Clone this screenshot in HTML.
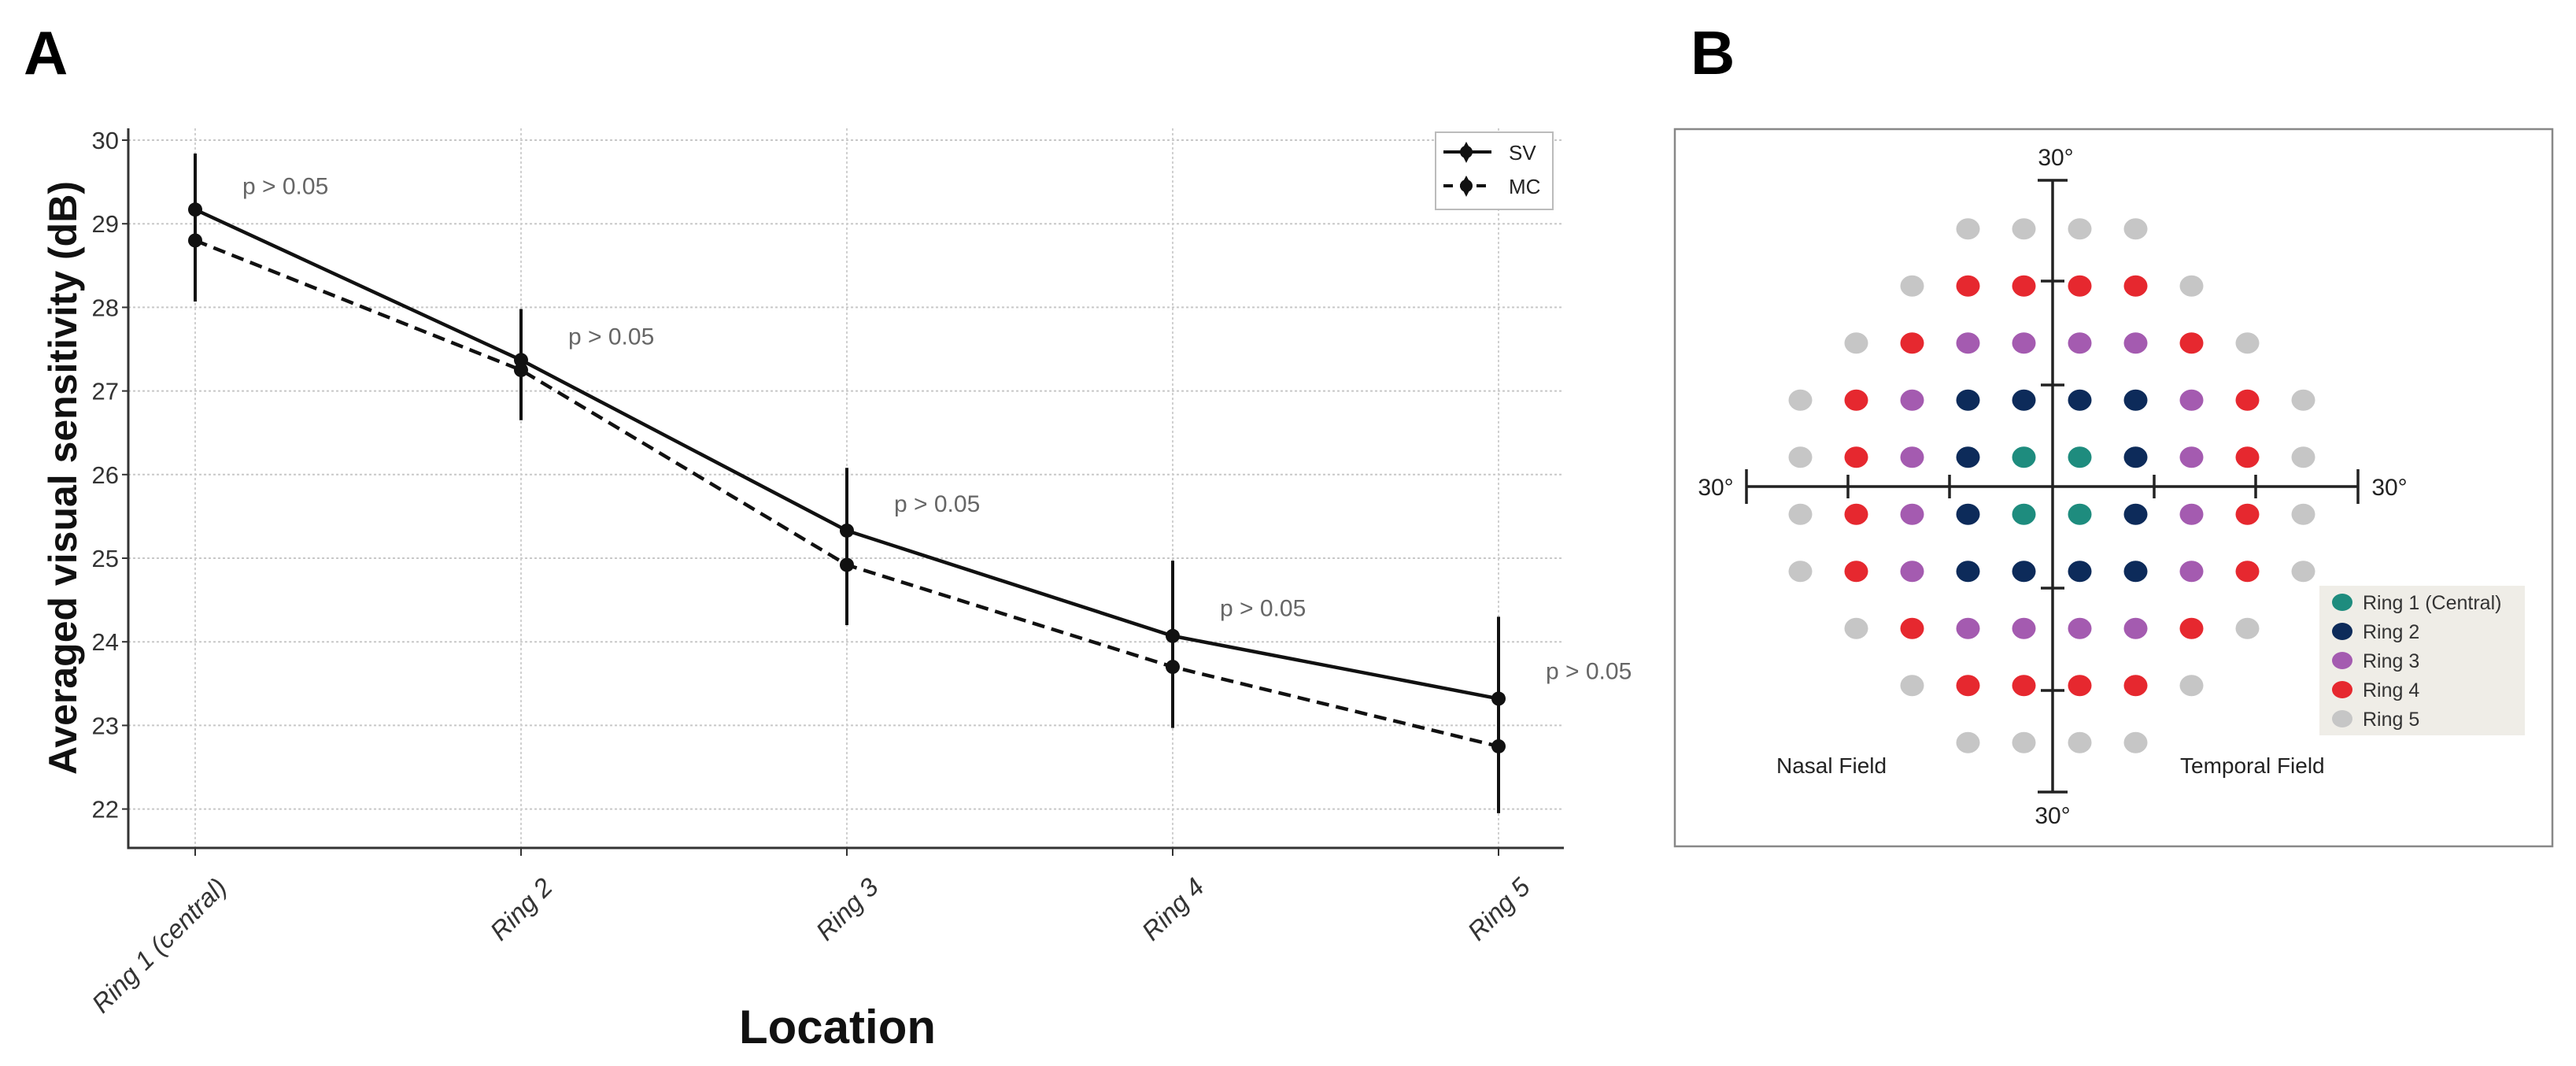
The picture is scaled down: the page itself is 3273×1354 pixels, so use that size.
<!DOCTYPE html>
<html><head><meta charset="utf-8"><style>
html,body{margin:0;padding:0;background:#fff}
svg{display:block}
text{font-family:"Liberation Sans",sans-serif}
</style></head><body>
<svg id="fig" width="3273" height="1354" viewBox="0 0 3273 1354" xmlns="http://www.w3.org/2000/svg">
<text x="30" y="94" font-size="78" font-weight="bold">A</text>
<text x="2148" y="94" font-size="78" font-weight="bold">B</text>
<g id="chartA"></g>
<g id="chartB"></g>
</svg>
<script>
const categories = ["Ring 1 (central)", "Ring 2", "Ring 3", "Ring 4", "Ring 5"];
const svValues = [29.17, 27.37, 25.33, 24.07, 23.32];
const mcValues = [28.80, 27.25, 24.92, 23.70, 22.75];
const svErr = [0.67, 0.61, 0.75, 0.90, 0.98];
const mcErr = [0.73, 0.60, 0.72, 0.73, 0.80];
const pLabels = ["p > 0.05", "p > 0.05", "p > 0.05", "p > 0.05", "p > 0.05"];
const pLabelY = [29.45, 27.65, 25.65, 24.40, 23.65];
const yTicks = [22, 23, 24, 25, 26, 27, 28, 29, 30];

const fieldRows = [
 [0,0,0,5,5,5,5,0,0,0],
 [0,0,5,4,4,4,4,5,0,0],
 [0,5,4,3,3,3,3,4,5,0],
 [5,4,3,2,2,2,2,3,4,5],
 [5,4,3,2,1,1,2,3,4,5],
 [5,4,3,2,1,1,2,3,4,5],
 [5,4,3,2,2,2,2,3,4,5],
 [0,5,4,3,3,3,3,4,5,0],
 [0,0,5,4,4,4,4,5,0,0],
 [0,0,0,5,5,5,5,0,0,0]
];
const ringNames = ["Ring 1 (Central)", "Ring 2", "Ring 3", "Ring 4", "Ring 5"];
const ringColors = ["#1e8c7e", "#0d2b5a", "#a45bb0", "#e6282f", "#c6c6c6"];

const NS = "http://www.w3.org/2000/svg";
function mk(parent, tag, attrs, txt){
  const e = document.createElementNS(NS, tag);
  for (const k in attrs) e.setAttribute(k, attrs[k]);
  if (txt !== undefined) e.textContent = txt;
  parent.appendChild(e);
  return e;
}
const A = document.getElementById('chartA');
const plotL = 163, plotR = 1987, plotT = 163, plotB = 1077;
const x0 = 248, xStep = 414;
const xs = i => x0 + i * xStep;
const ys = v => 178 + (30 - v) * 106.2;

let g;
for (const t of yTicks) {
  g = mk(A, 'line', {x1: plotL, x2: plotR, y1: ys(t), y2: ys(t), stroke: '#c8c8c8', 'stroke-width': 2, 'stroke-dasharray': '3,3'});
  
  
  g = mk(A, 'line', {x1: plotL - 8, x2: plotL, y1: ys(t), y2: ys(t), stroke: '#333', 'stroke-width': 2});
  
  
  g = mk(A, 'text', {x: plotL - 12, y: ys(t) + 11, 'font-size': 31, fill: '#333', 'text-anchor': 'end'}, String(t));
  
  
}
categories.forEach((c, i) => {
  g = mk(A, 'line', {x1: xs(i), x2: xs(i), y1: plotT, y2: plotB, stroke: '#d0d0d0', 'stroke-width': 2, 'stroke-dasharray': '3,3'});
  
  
  g = mk(A, 'line', {x1: xs(i), x2: xs(i), y1: plotB, y2: plotB + 10, stroke: '#333', 'stroke-width': 2});
  
  
  g = mk(A, 'text', {x: 0, y: 0, 'font-size': 33, 'font-style': 'italic', fill: '#333', 'text-anchor': 'end', transform: `translate(${xs(i) + 42},${plotB + 52}) rotate(-45)`}, c);
  
  
});
g = mk(A, 'path', {d: `M${plotL},${plotT} V${plotB} H${plotR}`, fill: 'none', stroke: '#333', 'stroke-width': 3});



categories.forEach((c, i) => {
  const hi = Math.max(svValues[i] + svErr[i], mcValues[i] + mcErr[i]);
  const lo = Math.min(svValues[i] - svErr[i], mcValues[i] - mcErr[i]);
  g = mk(A, 'line', {x1: xs(i), x2: xs(i), y1: ys(hi), y2: ys(lo), stroke: '#111', 'stroke-width': 4});
  
  
});
g = mk(A, 'polyline', {points: svValues.map((v, i) => xs(i) + ',' + ys(v)).join(' '), fill: 'none', stroke: '#111', 'stroke-width': 4.5});


g = mk(A, 'polyline', {points: mcValues.map((v, i) => xs(i) + ',' + ys(v)).join(' '), fill: 'none', stroke: '#111', 'stroke-width': 4.5, 'stroke-dasharray': '16,9'});


svValues.forEach((v, i) => {
  g = mk(A, 'circle', {cx: xs(i), cy: ys(v), r: 9, fill: '#111'});
  
  
});
mcValues.forEach((v, i) => {
  g = mk(A, 'circle', {cx: xs(i), cy: ys(v), r: 9, fill: '#111'});
  
  
});
pLabels.forEach((p, i) => {
  g = mk(A, 'text', {x: xs(i) + 60, y: ys(pLabelY[i]) + 10, 'font-size': 30, fill: '#666'}, p);
  
  
});
const lg = mk(A, 'g', {});


mk(lg, 'rect', {x: 1824, y: 168, width: 149, height: 98, fill: '#fff', stroke: '#bbb', 'stroke-width': 2});
mk(lg, 'line', {x1: 1834, x2: 1895, y1: 193, y2: 193, stroke: '#111', 'stroke-width': 4});
mk(lg, 'path', {d: 'M1863,180 L1870,193 L1863,207 L1856,193 Z', fill: '#111'});
mk(lg, 'circle', {cx: 1863, cy: 193, r: 8, fill: '#111'});
g = mk(lg, 'text', {x: 1917, y: 203, 'font-size': 26, fill: '#222'}, 'SV');


mk(lg, 'line', {x1: 1834, x2: 1895, y1: 236, y2: 236, stroke: '#111', 'stroke-width': 4, 'stroke-dasharray': '12,9'});
mk(lg, 'path', {d: 'M1863,223 L1870,236 L1863,250 L1856,236 Z', fill: '#111'});
mk(lg, 'circle', {cx: 1863, cy: 236, r: 8, fill: '#111'});
g = mk(lg, 'text', {x: 1917, y: 246, 'font-size': 26, fill: '#222'}, 'MC');



g = mk(A, 'text', {x: 0, y: 0, 'font-size': 50, 'font-weight': 'bold', fill: '#111', 'text-anchor': 'middle', transform: 'translate(97,607) rotate(-90)'}, 'Averaged visual sensitivity (dB)');


g = mk(A, 'text', {x: 1064, y: 1325, 'font-size': 60, 'font-weight': 'bold', fill: '#111', 'text-anchor': 'middle', 'textLength': 250}, 'Location');



const B = document.getElementById('chartB');
g = mk(B, 'rect', {x: 2128, y: 164, width: 1115, height: 911, fill: '#fff', stroke: '#888', 'stroke-width': 2.5});


const fcx = 2607, fcy = 617, fdx = 71, fdy = 72.5;
fieldRows.forEach((row, r) => {
  row.forEach((ring, c) => {
    if (!ring) return;
    const e = mk(B, 'ellipse', {cx: fcx + (c - 4.5) * fdx, cy: fcy + (r - 4.5) * fdy, rx: 15, ry: 13.5, fill: ringColors[ring - 1]});
    
    
  });
});
const ax = mk(B, 'g', {stroke: '#222', 'stroke-width': 3.5});


mk(ax, 'line', {x1: 2219, x2: 2996, y1: 618, y2: 618});
mk(ax, 'line', {x1: 2608, x2: 2608, y1: 229, y2: 1006});
mk(ax, 'line', {x1: 2219, x2: 2219, y1: 596, y2: 640});
mk(ax, 'line', {x1: 2996, x2: 2996, y1: 596, y2: 640});
mk(ax, 'line', {x1: 2589, x2: 2627, y1: 229, y2: 229});
mk(ax, 'line', {x1: 2589, x2: 2627, y1: 1006, y2: 1006});
for (const tx of [2348, 2477, 2737, 2866]) mk(ax, 'line', {x1: tx, x2: tx, y1: 603, y2: 633});
for (const ty of [357, 489, 747, 877]) mk(ax, 'line', {x1: 2593, x2: 2623, y1: ty, y2: ty});
const lab = (x, y, t, anchor, name, size) => {
  const e = mk(B, 'text', {x: x, y: y, 'font-size': size || 30, fill: '#222', 'text-anchor': anchor}, t);
  
  
};
lab(2612, 210, '30°', 'middle', 'top-degree-label');
lab(2608, 1046, '30°', 'middle', 'bottom-degree-label');
lab(2180, 629, '30°', 'middle', 'left-degree-label');
lab(3036, 629, '30°', 'middle', 'right-degree-label');
lab(2257, 982, 'Nasal Field', 'start', 'nasal-field-label', 28);
lab(2770, 982, 'Temporal Field', 'start', 'temporal-field-label', 28);
const bl = mk(B, 'g', {});


mk(bl, 'rect', {x: 2947, y: 744, width: 261, height: 190, fill: '#efede7'});
ringNames.forEach((n, i) => {
  const yy = 765 + i * 37;
  mk(bl, 'ellipse', {cx: 2976, cy: yy, rx: 13, ry: 11, fill: ringColors[i]});
  const e = mk(bl, 'text', {x: 3002, y: yy + 9, 'font-size': 25, fill: '#333'}, n);
  
  
});
</script>
</body></html>
